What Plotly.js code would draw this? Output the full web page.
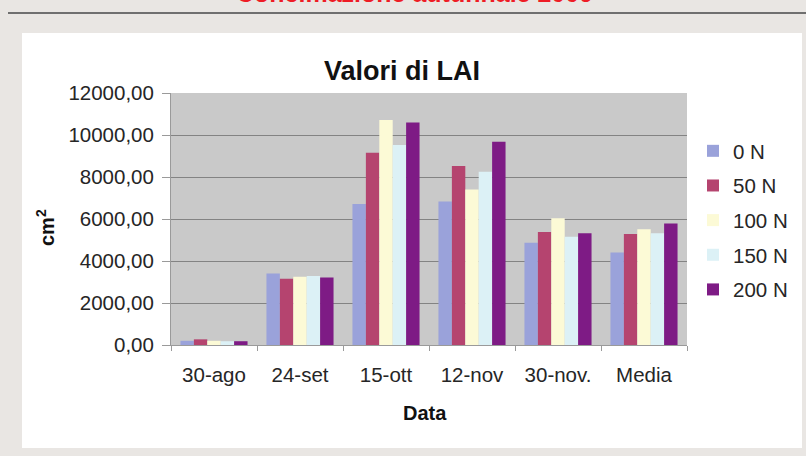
<!DOCTYPE html>
<html>
<head>
<meta charset="utf-8">
<script src="https://cdn.plot.ly/plotly-3.0.1.min.js"></script>
<style>
html,body{margin:0;padding:0;background:#e9e6e3;}
#chart{width:806px;height:456px;}
</style>
</head>
<body>
<div id="chart"></div>
<script>
var categories = ['30-ago', '24-set', '15-ott', '12-nov', '30-nov.', 'Media'];
var seriesNames = ['0 N', '50 N', '100 N', '150 N', '200 N'];
var n0   = [200, 3410, 6710, 6830, 4870, 4400];
var n50  = [270, 3160, 9160, 8520, 5380, 5290];
var n100 = [200, 3250, 10710, 7410, 6030, 5510];
var n150 = [180, 3290, 9520, 8250, 5160, 5320];
var n200 = [180, 3220, 10590, 9680, 5320, 5790];
var yTickValues = [0, 2000, 4000, 6000, 8000, 10000, 12000];
var seriesColors = ['#9aa2da', '#b5446f', '#fcfad6', '#dcf1f6', '#7e1b85'];
var allSeries = [n0, n50, n100, n150, n200];

var font = 'Liberation Sans, Arial, sans-serif';

var traces = allSeries.map(function (vals, i) {
  return {
    type: 'bar',
    name: seriesNames[i],
    x: categories,
    y: vals,
    legendgroup: 'g' + i,
    marker: {color: seriesColors[i], line: {width: 0}},
    hoverinfo: 'x+y+name'
  };
});

// plot area in pixels: left 171, right 687, top 93, bottom 345
function px2x(px) { return (px - 171) / 516; }
function px2y(py) { return (345 - py) / 252; }

var layout = {
  width: 806,
  height: 456,
  paper_bgcolor: '#e9e6e3',
  plot_bgcolor: 'rgba(0,0,0,0)',
  separators: ',.',
  margin: {l: 171, r: 119, t: 93, b: 111, pad: 0},
  barmode: 'group',
  bargap: 0.22,
  bargroupgap: 0,
  showlegend: true,
  font: {family: font, color: '#262626', size: 20},
  title: {
    text: 'Valori di LAI',
    font: {family: font, size: 27, color: '#111111', weight: 'bold'},
    xref: 'container', yref: 'container',
    x: 402 / 806, y: 1 - 71 / 456, xanchor: 'center', yanchor: 'middle'
  },
  xaxis: {
    type: 'category',
    showgrid: false,
    zeroline: false,
    showline: true,
    linecolor: '#9a9a9a',
    linewidth: 1,
    ticks: 'outside',
    tickson: 'boundaries',
    ticklen: 5,
    tickcolor: '#9a9a9a',
    tickfont: {family: font, size: 20.5, color: '#262626'},
    ticklabelstandoff: 11,
    fixedrange: true
  },
  yaxis: {
    range: [0, 12000],
    tickvals: yTickValues,
    tickformat: '.2f',
    showgrid: true,
    gridcolor: '#838383',
    gridwidth: 1,
    zeroline: false,
    showline: true,
    linecolor: '#9a9a9a',
    linewidth: 1,
    ticks: 'outside',
    ticklen: 8,
    tickcolor: '#9a9a9a',
    tickfont: {family: font, size: 20.5, color: '#262626'},
    ticklabelstandoff: 4,
    fixedrange: true
  },
  legend: {
    x: px2x(693), xanchor: 'left',
    y: px2y(131), yanchor: 'top',
    bgcolor: 'rgba(0,0,0,0)',
    borderwidth: 0,
    traceorder: 'grouped',
    tracegroupgap: 5,
    font: {family: font, size: 20.5, color: '#262626'},
    itemclick: false, itemdoubleclick: false
  },
  shapes: [
    {type: 'rect', xref: 'paper', yref: 'paper', layer: 'below',
     x0: px2x(22), x1: px2x(802), y0: px2y(448), y1: px2y(33),
     fillcolor: '#ffffff', line: {width: 0}},
    {type: 'rect', xref: 'paper', yref: 'paper', layer: 'below',
     x0: 0, x1: 1, y0: 0, y1: 1,
     fillcolor: '#c9c9c9', line: {width: 0}},
    {type: 'line', xref: 'paper', yref: 'paper', layer: 'below',
     x0: px2x(8), x1: px2x(806), y0: px2y(13), y1: px2y(13),
     line: {color: '#6f6f6f', width: 2}}
  ],
  annotations: [
    {text: 'Concimazione autunnale 2009', xref: 'paper', yref: 'paper',
     x: px2x(414), y: px2y(9), xanchor: 'center', yanchor: 'bottom',
     showarrow: false, font: {family: font, size: 25, color: '#ee1c25', weight: 'bold'}},
    {text: 'cm<sup>2</sup>', xref: 'paper', yref: 'paper',
     x: px2x(45), y: px2y(228), xanchor: 'center', yanchor: 'middle', textangle: -90,
     showarrow: false, font: {family: font, size: 20, color: '#111111', weight: 'bold'}},
    {text: 'Data', xref: 'paper', yref: 'paper',
     x: px2x(425), y: px2y(413), xanchor: 'center', yanchor: 'middle',
     showarrow: false, font: {family: font, size: 20, color: '#111111', weight: 'bold'}}
  ]
};

Plotly.newPlot('chart', traces, layout, {displayModeBar: false, staticPlot: true});
</script>
</body>
</html>
